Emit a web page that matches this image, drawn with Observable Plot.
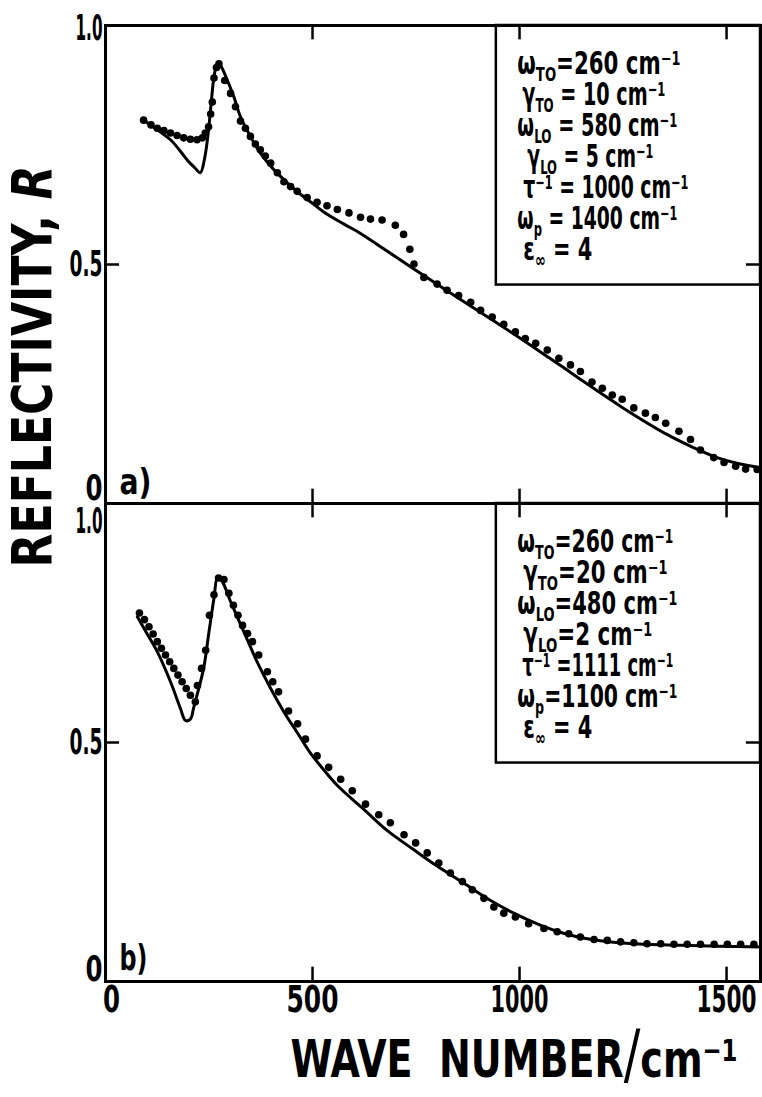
<!DOCTYPE html>
<html><head><meta charset="utf-8">
<script src="https://cdn.jsdelivr.net/npm/d3@7"></script>
<script src="https://cdn.jsdelivr.net/npm/@observablehq/plot@0.6"></script>
<style>
body{margin:0;background:#fff;}
#chart svg{display:block;overflow:visible;}
</style></head><body><div id="chart"></div>
<script>
// ---- data (wave number cm^-1, reflectivity R) ----
const panels = ["a", "b"];
const panelLabels = ["a)", "b)"];
const xTicks = [0, 500, 1000, 1500];
const yTicks = [0, 0.5, 1];
const yTickLabels = ["0", "0.5", "1.0"];

const aLine = [[92,.802],[125,.782],[157,.761],[180,.738],[200,.716],[215,.703],[229,.692],[240,.725],[248,.775],[255,.835],[262,.893],[268,.915],[274,.921],[282,.910],[294,.886],[310,.851],[326,.809],[350,.768],[374,.733],[406,.699],[439,.671],[471,.647],[500,.628],[527,.610],[575,.585],[616,.565],[680,.528],[744,.491],[850,.431],[954,.373],[1027,.331],[1100,.288],[1155,.255],[1250,.200],[1357,.144],[1420,.117],[1477,.096],[1530,.083],[1582,.075]];
const aDots = [[92,.802],[110,.792],[125,.785],[141,.780],[157,.775],[173,.770],[189,.765],[205,.762],[221,.761],[234,.765],[241,.775],[249,.788],[254,.815],[258,.840],[262,.890],[268,.912],[274,.920],[288,.885],[302,.858],[314,.830],[326,.800],[338,.785],[350,.768],[362,.752],[374,.740],[386,.727],[399,.712],[415,.692],[431,.673],[447,.663],[463,.653],[487,.640],[511,.630],[535,.623],[560,.615],[588,.608],[616,.599],[640,.595],[668,.593],[700,.582],[720,.563],[735,.532],[745,.501],[769,.473],[801,.459],[825,.446],[853,.435],[882,.421],[906,.404],[934,.390],[962,.375],[990,.359],[1014,.345],[1039,.335],[1067,.321],[1095,.304],[1123,.290],[1147,.276],[1175,.254],[1200,.241],[1224,.227],[1248,.218],[1276,.200],[1304,.189],[1328,.180],[1353,.168],[1385,.151],[1413,.134],[1437,.112],[1469,.096],[1494,.086],[1522,.078],[1546,.072],[1574,.071]];
const bLine = [[77,.763],[100,.728],[125,.690],[157,.627],[181,.571],[193,.546],[205,.549],[213,.573],[221,.599],[237,.655],[250,.732],[262,.802],[271,.847],[282,.837],[302,.795],[334,.732],[366,.669],[399,.613],[431,.564],[463,.521],[495,.478],[527,.443],[560,.410],[624,.360],[680,.316],[744,.276],[800,.242],[865,.206],[925,.172],[986,.143],[1050,.118],[1106,.101],[1160,.090],[1227,.082],[1300,.078],[1389,.076],[1480,.074],[1582,.072]];
const bDots = [[82,.771],[94,.757],[105,.742],[115,.727],[125,.711],[135,.697],[145,.683],[155,.669],[165,.655],[175,.641],[185,.627],[195,.613],[205,.599],[217,.585],[222,.619],[232,.655],[242,.693],[251,.766],[262,.809],[273,.844],[286,.841],[298,.812],[309,.787],[320,.766],[331,.745],[343,.728],[355,.711],[370,.683],[391,.648],[404,.627],[418,.606],[442,.566],[464,.539],[483,.507],[511,.472],[539,.448],[568,.423],[596,.399],[628,.371],[660,.349],[688,.332],[721,.307],[749,.290],[777,.269],[805,.248],[833,.227],[862,.209],[886,.192],[914,.174],[938,.156],[962,.143],[990,.135],[1022,.121],[1059,.111],[1091,.104],[1119,.100],[1147,.093],[1180,.088],[1212,.086],[1244,.083],[1276,.081],[1308,.079],[1341,.079],[1373,.078],[1405,.078],[1437,.078],[1470,.078],[1502,.078],[1534,.078],[1566,.078]];

const paramsA = ["ω_{TO}=260 cm^{−1}", "γ_{TO} = 10 cm^{−1}", "ω_{LO} = 580 cm^{−1}", "γ_{LO} = 5 cm^{−1}", "τ^{−1} = 1000 cm^{−1}", "ω_{p} = 1400 cm^{−1}", "ε_{∞} = 4"];
const paramsB = ["ω_{TO}=260 cm^{−1}", "γ_{TO}=20 cm^{−1}", "ω_{LO}=480 cm^{−1}", "γ_{LO}=2 cm^{−1}", "τ^{−1} =1111 cm^{−1}", "ω_{p}=1100 cm^{−1}", "ε_{∞} = 4"];

const xLabel = "WAVE  NUMBER#{/}cm^{−1}";
const yLabel = "REFLECTIVITY, *{R}";

// ---- layout (pixels) ----
const FONT = '"Liberation Sans Narrow","DejaVu Sans Condensed","DejaVu Sans",sans-serif';
const xMax = 1582;
const boxLeft = 944, boxBottom = 0.457;
const tk = 0.03;        // inward tick length (fraction of facet)
const tkx = 34;         // y tick length (wave-number units)
const paramStart = {a: [21, 26, 21, 31, 27, 21, 27], b: [21, 27, 21, 27, 26, 21, 27]};
const paramWidth = {a: [163, 143, 160, 126, 165, 160, 69], b: [156, 144, 160, 129, 151, 160, 69]};
const tickWidth = {"0": 17, "0.5": 33, "1.0": 27, "500": 52, "1000": 58, "1500": 60};

const toRows = (arr, panel) => arr.map(([w, r]) => ({panel, w, r}));
const lineData = [...toRows(aLine, "a"), ...toRows(bLine, "b")];
const dotData = [...toRows(aDots, "a"), ...toRows(bDots, "b")];
const boxes = panels.map(p => ({panel: p}));
const params = {a: paramsA, b: paramsB};
const yLabelData = panels.flatMap(p => yTicks.map((v, i) => ({panel: p, v, label: yTickLabels[i]})));
const xLabelData = xTicks.map(w => ({panel: "b", w, label: String(w)}));
const panelLabelData = panels.map((p, i) => ({panel: p, label: panelLabels[i]}));

function yOffset(d) {
  if (d.v === 1) return d.panel === "a" ? 3 : 18;
  if (d.v === 0) return d.panel === "a" ? -15 : -12;
  return 0;
}

const paramMarks = panels.flatMap(p => params[p].map((line, i) =>
  Plot.text([{panel: p, text: line}], {x: () => boxLeft, y: () => 1, fy: "panel", text: "text",
    className: "r" + paramWidth[p][i], textAnchor: "start", lineAnchor: "top",
    dx: paramStart[p][i], dy: 26 + 31 * i, fontSize: 32, fontWeight: "bold", fill: "#000"})));

const chart = Plot.plot({
  width: 762, height: 1097,
  marginLeft: 105, marginRight: 2, marginTop: 25, marginBottom: 116,
  style: {fontFamily: FONT, background: "#fff", color: "#000"},
  x: {domain: [0, xMax], axis: null},
  y: {domain: [0, 1], axis: null},
  fy: {domain: panels, padding: 0, axis: null},
  marks: [
    Plot.frame({stroke: "#000", strokeWidth: 3}),
    Plot.ruleX(xTicks.filter(d => d > 0), {x: d => d, y1: () => 1, y2: () => 1 - tk, stroke: "#000", strokeWidth: 2.5}),
    Plot.ruleX(xTicks.filter(d => d > 0), {x: d => d, y1: () => 0, y2: () => tk, stroke: "#000", strokeWidth: 2.5}),
    Plot.ruleY([0.5], {y: d => d, x1: () => 0, x2: () => tkx, stroke: "#000", strokeWidth: 2.5}),
    Plot.ruleY([0.5], {y: d => d, x1: () => xMax - tkx, x2: () => xMax, stroke: "#000", strokeWidth: 2.5}),
    Plot.rect(boxes, {x1: () => boxLeft, x2: () => xMax, y1: () => boxBottom, y2: () => 1, fy: "panel", fill: "none", stroke: "#000", strokeWidth: 2.5}),
    Plot.line(lineData, {x: "w", y: "r", fy: "panel", z: "panel", curve: "catmull-rom", stroke: "#000", strokeWidth: 3}),
    Plot.dot(dotData, {x: "w", y: "r", fy: "panel", r: 3.8, fill: "#000", stroke: "none"}),
    ...yLabelData.map(d => Plot.text([d], {x: () => 0, y: "v", fy: "panel", text: "label", className: "t" + tickWidth[d.label], textAnchor: "end", dx: -3, dy: yOffset(d), fontSize: 36, fontWeight: "bold", fill: "#000"})),
    ...xLabelData.map(d => Plot.text([d], {x: "w", fy: "panel", text: "label", className: "t" + tickWidth[d.label], frameAnchor: "bottom", lineAnchor: "top", dx: d.w === 0 ? 6 : 0, dy: 4, fontSize: 37, fontWeight: "bold", fill: "#000"})),
    ...panelLabelData.map(d => Plot.text([d], {x: () => 0, y: () => 0, fy: "panel", text: "label", className: d.panel === "a" ? "t32" : "t28", textAnchor: "start", dx: 14, dy: d.panel === "a" ? -21 : -23, fontSize: 36, fontWeight: "bold", fill: "#000"})),
    ...paramMarks,
    Plot.text([{panel: "b", text: xLabel}], {fy: "panel", text: "text", className: "r447", frameAnchor: "bottom", textAnchor: "middle", lineAnchor: "top", dx: 81, dy: 59, fontSize: 51, fontWeight: "bold", fill: "#000"}),
    Plot.text([{panel: "a", text: yLabel}], {fy: "panel", text: "text", className: "r402", frameAnchor: "left", textAnchor: "middle", lineAnchor: "middle", rotate: -90, dx: -72, dy: 102, fontSize: 56, fontWeight: "bold", fill: "#000"})
  ]
});

// ---- rich text: _{sub} ^{sup} *{italic} #{big} ----
const NS = "http://www.w3.org/2000/svg";
function richify(el, fs) {
  const s = el.textContent;
  while (el.firstChild) el.removeChild(el.firstChild);
  for (const p of s.split(/([_^*#]\{[^}]*\})/)) {
    if (!p) continue;
    const t = document.createElementNS(NS, "tspan");
    const m = p.match(/^([_^*#])\{([^}]*)\}$/);
    if (m) {
      t.textContent = m[2];
      if (m[1] === "_") { t.setAttribute("font-size", (fs * 0.62) + "px"); t.setAttribute("baseline-shift", (-fs * 0.22) + "px"); }
      if (m[1] === "^") { t.setAttribute("font-size", (fs * 0.6) + "px"); t.setAttribute("baseline-shift", (fs * 0.3) + "px"); }
      if (m[1] === "*") { t.setAttribute("font-style", "italic"); }
      if (m[1] === "#") { t.setAttribute("font-size", (fs * 1.3) + "px"); t.setAttribute("font-weight", "normal"); }
    } else t.textContent = p;
    el.appendChild(t);
  }
}
document.getElementById("chart").appendChild(chart);
// condense each text horizontally to the reference width (scale about its anchor)
const isNum = v => v !== null && /^-?[\d.]+(e-?\d+)?$/.test(v.trim());
chart.querySelectorAll("g").forEach(g => {
  for (const c of g.classList) {
    const m = c.match(/^([tr])(\d+)$/);
    if (!m) continue;
    const fs = parseFloat(g.getAttribute("font-size") || 34);
    g.querySelectorAll("text").forEach(text => {
      if (m[1] === "r") richify(text, fs);
      let tr = text.getAttribute("transform") || "";
      const x = text.getAttribute("x"), y = text.getAttribute("y");
      let tx = 0, ty = 0;
      if (isNum(x)) { tx = +x; text.removeAttribute("x"); }
      if (isNum(y)) { ty = +y; text.removeAttribute("y"); }
      if (tx || ty) tr = `translate(${tx},${ty}) ` + tr;
      const natural = text.getComputedTextLength();
      const k = natural > 0 ? (+m[2]) / natural : 1;
      text.setAttribute("transform", `${tr} scale(${k},1)`);
    });
  }
});
</script></body></html>
